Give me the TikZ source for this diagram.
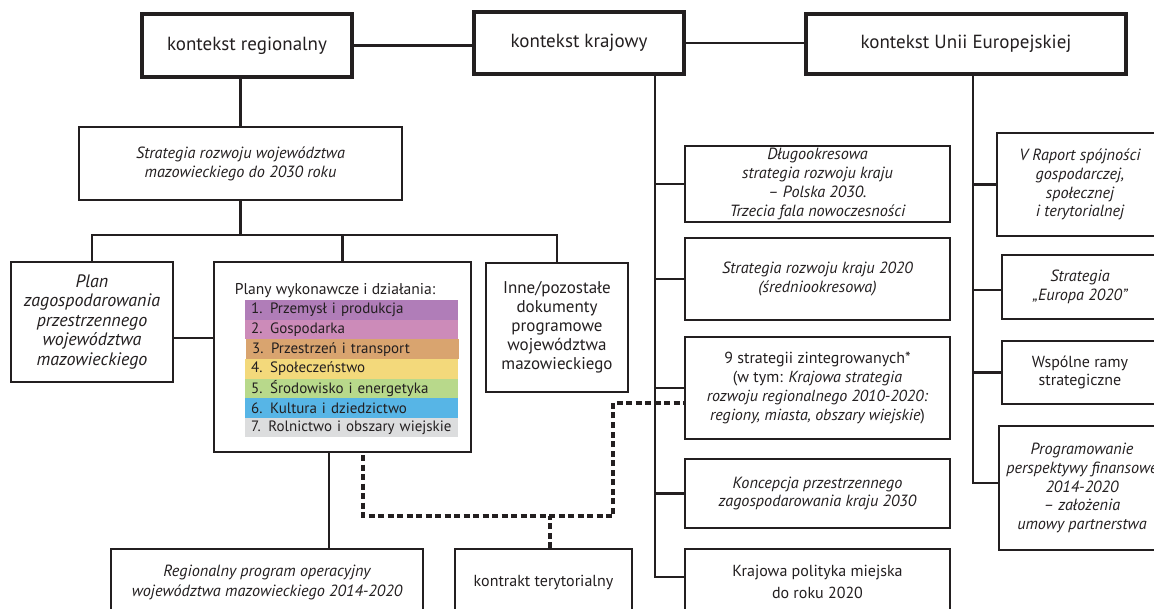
\documentclass[tikz,border=0pt]{standalone}
\usepackage{fontspec}
\setmainfont{PT Sans}
\definecolor{ink}{HTML}{231F20}
\definecolor{c1}{HTML}{B07DB8}
\definecolor{c2}{HTML}{CC8BB9}
\definecolor{c3}{HTML}{D9A46F}
\definecolor{c4}{HTML}{F3D97B}
\definecolor{c5}{HTML}{B8D98B}
\definecolor{c6}{HTML}{57B5E6}
\definecolor{c7}{HTML}{DCDDDE}
\begin{document}
\begin{tikzpicture}[x=1pt,y=-1pt,
  every node/.style={text=ink},
  topbox/.style={draw=ink, line width=3.4pt, inner sep=0pt, align=center, font=\fontsize{19}{22}\selectfont},
  box/.style={draw=ink, line width=2pt, inner sep=0pt, align=center, font=\fontsize{16}{18.8}\selectfont},
  ibox/.style={box, font=\fontsize{16.2}{18.8}\selectfont\itshape},
  conn/.style={draw=ink, line width=2.4pt},
  dconn/.style={draw=ink, line width=3.2pt, dash pattern=on 6pt off 3.5pt},
  bar/.style={inner xsep=6pt, inner ysep=0pt, minimum height=19.6pt, text width=201pt, align=left, anchor=north west, font=\fontsize{15}{18}\selectfont}]
\useasboundingbox (0,0) rectangle (1154,609);
\clip (0,0) rectangle (1154,609);
\fill[white] (0,0) rectangle (1154,609);

% top boxes
\node[topbox, minimum width=210pt, minimum height=63pt] (reg) at (247,45.5) {kontekst regionalny};
\node[topbox, minimum width=210pt, minimum height=62pt] (kraj) at (579,43) {kontekst krajowy};
\node[topbox, minimum width=320pt, minimum height=60pt] (eu) at (966,44) {kontekst Unii Europejskiej};

% regional column
\node[ibox, minimum width=323pt, minimum height=73pt] (strat) at (240.5,163.5) {Strategia rozwoju województwa\\mazowieckiego do 2030 roku};
\node[ibox, minimum width=162pt, minimum height=120pt, font=\fontsize{18}{19.5}\selectfont\itshape] (plan) at (92,322) {Plan\\zagospodarowania\\przestrzennego\\województwa\\mazowieckiego};
\node[box, minimum width=257pt, minimum height=190pt] (plany) at (342.5,357) {};
\node[box, minimum width=142pt, minimum height=129pt, font=\fontsize{17}{18.9}\selectfont] (inne) at (557,327.5) {Inne/pozostałe\\dokumenty\\programowe\\województwa\\mazowieckiego};
\node[ibox, minimum width=312pt, minimum height=66pt, font=\fontsize{16.2}{20}\selectfont\itshape] (rpo) at (267,582) {Regionalny program operacyjny\\województwa mazowieckiego 2014-2020};
\node[box, minimum width=177pt, minimum height=66pt] (kt) at (543.5,582) {kontrakt terytorialny};

% plany content
\node[font=\fontsize{15.6}{18}\selectfont] (ph) at (335,291) {Plany wykonawcze i działania:};
\node[bar, fill=c1] (b1) at (245,300) {1. Przemysł i produkcja};
\node[bar, fill=c2] (b2) at (245,319.6) {2. Gospodarka};
\node[bar, fill=c3] (b3) at (246,339.2) {3. Przestrzeń i transport};
\node[bar, fill=c4] (b4) at (245,358.8) {4. Społeczeństwo};
\node[bar, fill=c5] (b5) at (245,378.4) {5. Środowisko i energetyka};
\node[bar, fill=c6] (b6) at (245,398) {6. Kultura i dziedzictwo};
\node[bar, fill=c7] (b7) at (245,417.6) {7. Rolnictwo i obszary wiejskie};

% national column
\node[ibox, minimum width=265pt, minimum height=76pt] (d1) at (817.5,184) {Długookresowa\\strategia rozwoju kraju\\– Polska 2030.\\Trzecia fala nowoczesności};
\node[ibox, minimum width=265pt, minimum height=82pt] (d2) at (817.5,279) {Strategia rozwoju kraju 2020\\(średniookresowa)};
\node[box, minimum width=265pt, minimum height=102pt] (d3) at (817.5,388) {9 strategii zintegrowanych*\\(w tym: \textit{Krajowa strategia}\\\textit{rozwoju regionalnego 2010-2020:}\\\textit{regiony, miasta, obszary wiejskie})};
\node[ibox, minimum width=265pt, minimum height=69pt] (d4) at (817.5,493.5) {Koncepcja przestrzennego\\zagospodarowania kraju 2030};
\node[box, minimum width=265pt, minimum height=66pt, font=\fontsize{16}{22}\selectfont] (d5) at (817.5,582) {Krajowa polityka miejska\\do roku 2020};

% EU column
\node[ibox, minimum width=166pt, minimum height=103pt] (e1) at (1080,184.5) {V Raport spójności\\gospodarczej,\\społecznej\\i terytorialnej};
\node[ibox, minimum width=156pt, minimum height=64pt] (e2) at (1080,287) {Strategia\\„Europa 2020”};
\node[box, minimum width=156pt, minimum height=63pt] (e3) at (1080,372.5) {Wspólne ramy\\strategiczne};
\node[ibox, minimum width=166pt, minimum height=124pt] (e4) at (1082,488) {Programowanie\\perspektywy finansowe\\2014-2020\\– założenia\\umowy partnerstwa};

% connectors, top
\draw[conn] (reg.east) -- (reg.east -| kraj.west);
\draw[conn] (kraj.east) -- (kraj.east -| eu.west);
\draw[conn] (strat.north |- reg.south) -- (strat.north);

% regional tree
\coordinate (bus) at (240.5,235);
\draw[conn] (strat.south) -- (bus);
\draw[conn] (plan.north) |- (bus) -| (inne.north);
\draw[conn] (plany.north) -- (plany.north |- bus);
\draw[conn] ([yshift=-16pt]plan.east) -- ([yshift=-16pt]plan.east -| plany.west);
\coordinate (sd) at ([xshift=-13.5pt]plany.south);
\draw[conn] (sd) -- (sd |- rpo.north);

% dashed
\coordinate (ds) at ([xshift=20.5pt,yshift=-2pt]plany.south);
\coordinate (dj) at (613,516);
\coordinate (dk) at (613,403);
\draw[dconn] (ds) |- (dj) -- (dk) -- (dk -| d3.west);
\draw[dconn] ([xshift=6.5pt]kt.north) -- ([xshift=6.5pt]kt.north |- dj);

% national tree
\coordinate (kv) at ([xshift=76pt]kraj.south);
\draw[conn] (kv) |- ([yshift=5pt]d5.west);
\foreach \n in {d1,d2,d3,d4} \draw[conn] (\n.west) -- (\n.west -| kv);

% EU tree
\coordinate (ev) at ([xshift=7pt]eu.south);
\draw[conn] (ev) |- ([yshift=5pt]e4.west);
\draw[conn] (e1.west) -- (e1.west -| ev);
\draw[conn] ([yshift=-3pt]e2.west) -- ([yshift=-3pt]e2.west -| ev);
\draw[conn] (e3.west) -- (e3.west -| ev);
\end{tikzpicture}
\end{document}
